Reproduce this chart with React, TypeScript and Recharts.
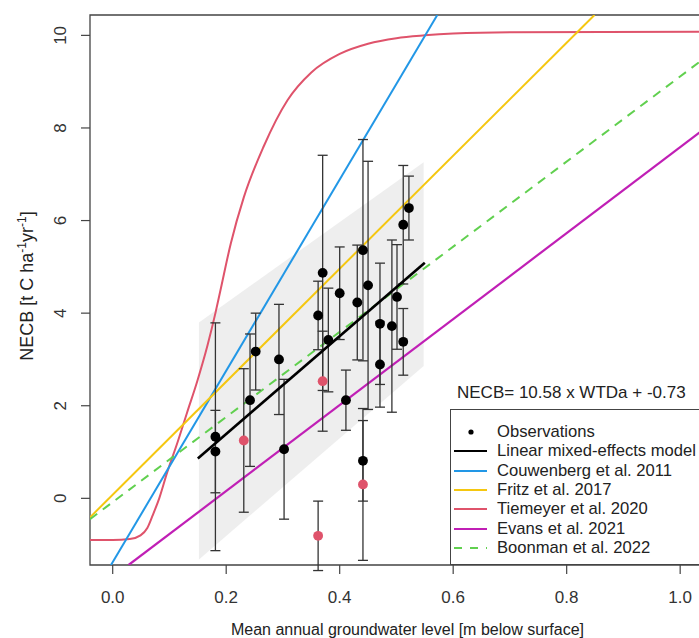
import React from 'react';
import {
  Area,
  ComposedChart,
  ErrorBar,
  Line,
  ReferenceArea,
  Scatter,
  XAxis,
  YAxis,
  ZAxis,
} from 'recharts';

const FONT = '"Liberation Sans", Arial, sans-serif';

const xTicks = [0, 0.2, 0.4, 0.6, 0.8, 1.0];
const yTicks = [0, 2, 4, 6, 8, 10];

// site means with their error (half width of the bar)
const observations = [
  { x: 0.181, y: 1.33, err: 2.46 },
  { x: 0.181, y: 1.01, err: 0.89 },
  { x: 0.242, y: 2.12, err: 1.43 },
  { x: 0.252, y: 3.17, err: 0.83 },
  { x: 0.293, y: 3.0, err: 1.19 },
  { x: 0.302, y: 1.06, err: 1.51 },
  { x: 0.362, y: 3.95, err: 0.74 },
  { x: 0.37, y: 4.87, err: 2.54 },
  { x: 0.38, y: 3.42, err: 1.12 },
  { x: 0.4, y: 4.43, err: 1.0 },
  { x: 0.411, y: 2.12, err: 0.65 },
  { x: 0.431, y: 4.23, err: 1.24 },
  { x: 0.441, y: 5.36, err: 2.39 },
  { x: 0.441, y: 0.81, err: 0.87 },
  { x: 0.45, y: 4.6, err: 2.68 },
  { x: 0.471, y: 3.77, err: 1.31 },
  { x: 0.471, y: 2.89, err: 0.92 },
  { x: 0.492, y: 3.72, err: 1.86 },
  { x: 0.501, y: 4.35, err: 1.13 },
  { x: 0.512, y: 5.91, err: 1.28 },
  { x: 0.512, y: 3.38, err: 0.72 },
  { x: 0.522, y: 6.27, err: 0.69 },
];

const redObservations = [
  { x: 0.231, y: 1.25, err: 1.55 },
  { x: 0.362, y: -0.81, err: 0.75 },
  { x: 0.37, y: 2.53, err: 1.08 },
  { x: 0.441, y: 0.3, err: 1.64 },
];

const modelBand = [
  { x: 0.152, band: [-1.32, 3.8] },
  { x: 0.548, band: [2.86, 7.26] },
];

const modelLine = [
  { x: 0.15, y: 0.86 },
  { x: 0.55, y: 5.09 },
];
const couwenberg = [
  { x: -0.003, y: -1.44 },
  { x: 0.572, y: 10.44 },
];
const fritz = [
  { x: -0.04, y: -0.41 },
  { x: 0.849, y: 10.44 },
];
const tiemeyer = [
  { x: -0.04, y: -0.9 },
  { x: 0.0, y: -0.9 },
  { x: 0.03, y: -0.88 },
  { x: 0.049, y: -0.8 },
  { x: 0.061, y: -0.64 },
  { x: 0.07, y: -0.38 },
  { x: 0.082, y: 0.0 },
  { x: 0.096, y: 0.56 },
  { x: 0.114, y: 1.2 },
  { x: 0.131, y: 1.85 },
  { x: 0.149, y: 2.53 },
  { x: 0.167, y: 3.3 },
  { x: 0.181, y: 4.0 },
  { x: 0.19, y: 4.5 },
  { x: 0.208, y: 5.5 },
  { x: 0.231, y: 6.5 },
  { x: 0.266, y: 7.6 },
  { x: 0.308, y: 8.6 },
  { x: 0.35, y: 9.2 },
  { x: 0.4, y: 9.6 },
  { x: 0.45, y: 9.82 },
  { x: 0.5, y: 9.94 },
  { x: 0.55, y: 10.0 },
  { x: 0.6, y: 10.04 },
  { x: 0.7, y: 10.07 },
  { x: 1.079, y: 10.08 },
];
const evans = [
  { x: 0.028, y: -1.44 },
  { x: 1.079, y: 8.32 },
];
const boonman = [
  { x: -0.04, y: -0.45 },
  { x: 1.079, y: 9.84 },
];

const legendItems = [
  { label: 'Observations', color: '#000', kind: 'dot' },
  { label: 'Linear mixed-effects model', color: '#000', kind: 'line' },
  { label: 'Couwenberg et al. 2011', color: '#2297E6', kind: 'line' },
  { label: 'Fritz et al. 2017', color: '#F5C710', kind: 'line' },
  { label: 'Tiemeyer et al. 2020', color: '#DF536B', kind: 'line' },
  { label: 'Evans et al. 2021', color: '#C01FB5', kind: 'line' },
  { label: 'Boonman et al. 2022', color: '#61D04F', kind: 'dash' },
];

const equation = 'NECB= 10.58 x WTDa + -0.73';

const renderYTick = (props: any) => {
  const { x, y, payload } = props;
  const bx = x - 13;
  return (
    <text
      x={bx}
      y={y}
      transform={`rotate(-90, ${bx}, ${y})`}
      textAnchor="middle"
      fontSize={17}
      fontFamily={FONT}
      fill="#333"
    >
      {payload.value}
    </text>
  );
};

const renderYTitle = (props: any) => {
  const vb = props.viewBox || { x: 30, y: 15, width: 60, height: 550 };
  const bx = vb.x + 3;
  const cy = vb.y + vb.height / 2 - 4;
  return (
    <text
      x={bx}
      y={cy}
      transform={`rotate(-90, ${bx}, ${cy})`}
      textAnchor="middle"
      fontSize={18}
      fontFamily={FONT}
      fill="#222"
    >
      NECB [t C ha
      <tspan dy={-7} fontSize={12}>
        -1
      </tspan>
      <tspan dy={7}>yr</tspan>
      <tspan dy={-7} fontSize={12}>
        -1
      </tspan>
      <tspan dy={7}>]</tspan>
    </text>
  );
};

const LegendKey = ({ kind, color }: { kind: string; color: string }) => (
  <svg width={40} height={18} style={{ display: 'block' }}>
    {kind === 'dot' && <circle cx={20} cy={9} r={2.6} fill={color} />}
    {kind === 'line' && (
      <line x1={3} x2={36} y1={9} y2={9} stroke={color} strokeWidth={2.2} />
    )}
    {kind === 'dash' && (
      <line
        x1={3}
        x2={36}
        y1={9}
        y2={9}
        stroke={color}
        strokeWidth={2}
        strokeDasharray="8 8"
      />
    )}
  </svg>
);

export default function App() {
  return (
    <div
      style={{
        position: 'absolute',
        left: 0,
        top: 0,
        width: 699,
        height: 638,
        overflow: 'hidden',
        background: '#fff',
        fontFamily: FONT,
      }}
    >
      <ComposedChart
        width={734}
        height={638}
        data={modelBand}
        margin={{ top: 15, right: 9, bottom: 0, left: 30 }}
      >
        <XAxis
          type="number"
          dataKey="x"
          domain={[-0.04, 1.079]}
          allowDataOverflow
          ticks={xTicks}
          tickFormatter={(v: number) => v.toFixed(1)}
          axisLine={false}
          tickLine={{ stroke: '#444', strokeWidth: 1.2 }}
          tickSize={9}
          tickMargin={17}
          height={73}
          tick={{ fontSize: 17, fill: '#333', fontFamily: FONT }}
          label={{
            value: 'Mean annual groundwater level [m below surface]',
            position: 'insideBottom',
            offset: 3,
            fontSize: 16,
            fill: '#222',
            fontFamily: FONT,
          }}
        />
        <YAxis
          type="number"
          dataKey="y"
          domain={[-1.44, 10.44]}
          allowDataOverflow
          ticks={yTicks}
          width={60}
          axisLine={false}
          tickLine={{ stroke: '#444', strokeWidth: 1.2 }}
          tickSize={9}
          tick={renderYTick}
          label={renderYTitle}
        />
        <ZAxis range={[76, 76]} />
        <Area
          dataKey="band"
          type="linear"
          fill="#e2e2e2"
          fillOpacity={0.6}
          stroke="none"
          isAnimationActive={false}
        />
        <Line data={tiemeyer} dataKey="y" type="monotone" stroke="#DF536B" strokeWidth={2} dot={false} isAnimationActive={false} />
        <Line data={couwenberg} dataKey="y" type="linear" stroke="#2297E6" strokeWidth={2} dot={false} isAnimationActive={false} />
        <Line data={fritz} dataKey="y" type="linear" stroke="#F5C710" strokeWidth={2} dot={false} isAnimationActive={false} />
        <Line data={evans} dataKey="y" type="linear" stroke="#C01FB5" strokeWidth={2.2} dot={false} isAnimationActive={false} />
        <Line data={boonman} dataKey="y" type="linear" stroke="#61D04F" strokeWidth={2} strokeDasharray="9 7" dot={false} isAnimationActive={false} />
        <Scatter data={observations} fill="#000" isAnimationActive={false}>
          <ErrorBar dataKey="err" direction="y" width={5} stroke="#333" strokeWidth={1.3} />
        </Scatter>
        <Scatter data={redObservations} fill="#DF536B" isAnimationActive={false}>
          <ErrorBar dataKey="err" direction="y" width={5} stroke="#333" strokeWidth={1.3} />
        </Scatter>
        <Line data={modelLine} dataKey="y" type="linear" stroke="#000" strokeWidth={2.6} dot={false} isAnimationActive={false} />
        <ReferenceArea
          x1={-0.04}
          x2={1.079}
          y1={-1.44}
          y2={10.44}
          fill="none"
          stroke="#444"
          strokeWidth={1.3}
        />
      </ComposedChart>

      <div
        style={{
          position: 'absolute',
          left: 457,
          top: 382,
          fontSize: 17,
          lineHeight: '22px',
          color: '#222',
          whiteSpace: 'nowrap',
        }}
      >
        {equation}
      </div>

      <div
        style={{
          position: 'absolute',
          left: 450,
          top: 409,
          width: 300,
          height: 156,
          boxSizing: 'border-box',
          border: '1.3px solid #444',
          background: '#fff',
        }}
      >
        {legendItems.map((item, i) => (
          <div
            key={item.label}
            style={{
              position: 'absolute',
              left: 0,
              top: 22 + i * 19.3 - 9,
              height: 18,
              display: 'flex',
              alignItems: 'center',
              whiteSpace: 'nowrap',
            }}
          >
            <LegendKey kind={item.kind} color={item.color} />
            <span style={{ fontSize: 16.6, lineHeight: '18px', color: '#222', marginLeft: 6 }}>
              {item.label}
            </span>
          </div>
        ))}
      </div>
    </div>
  );
}
